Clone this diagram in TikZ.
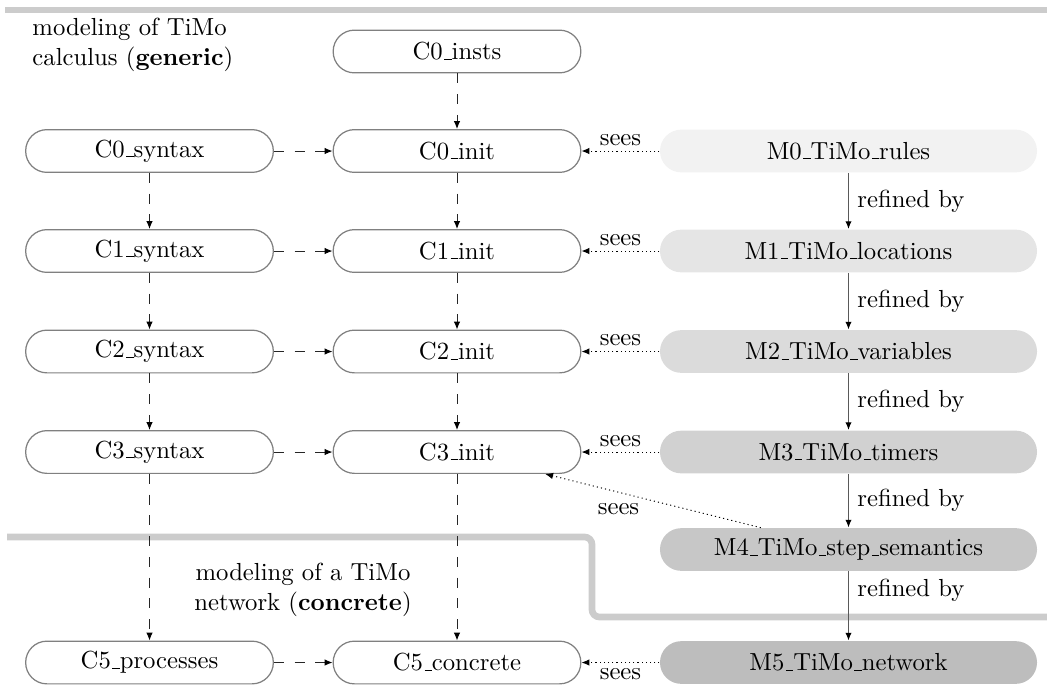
\documentclass[tikz,border=0pt]{standalone}
\usetikzlibrary{arrows.meta}
\newcommand\us{\leavevmode\kern.06em\vbox{\hrule width.3em}}
\begin{document}
\begin{tikzpicture}[x=0.405pt,y=-0.405pt,
  cnode/.style={draw=black!50, line width=0.5pt, rounded corners=8.6pt, minimum width=100.3pt, minimum height=17.3pt, inner sep=0pt, fill=white},
  mnode/.style={rounded corners=8.6pt, minimum width=152.7pt, minimum height=17.3pt, inner sep=0pt},
  tip/.style={-{Latex[length=3.2pt,width=2.6pt,black]}},
  dasharrow/.style={tip, draw=black!85, line width=0.4pt, dash pattern=on 4pt off 4.4pt},
  seesarrow/.style={tip, draw=black, line width=0.4pt, dash pattern=on 0.45pt off 1.25pt},
  refarrow/.style={tip, draw=black!65, line width=0.6pt},
  lbl/.style={inner sep=2pt},
  rlbl/.style={inner sep=3.3pt},
  sepline/.style={draw=black!20, line width=2.7pt}
]
\useasboundingbox (0,0) rectangle (1047,688);

% separators
\draw[sepline] (5,10) -- (1047,10);
\draw[sepline, rounded corners=3pt] (7,537) -- (592,537) -- (592,617) -- (1047,617);

% region texts
\node[anchor=north west, inner sep=0pt, align=left] (gen) at (32,18) {modeling of TiMo\\calculus (\textbf{generic})};
\node[inner sep=0pt, align=center] (conc) at (303,590) {modeling of a TiMo\\network (\textbf{concrete})};

% left column
\node[cnode] (s0) at (149.5,151) {C0\us syntax};
\node[cnode] (s1) at (149.5,251) {C1\us syntax};
\node[cnode] (s2) at (149.5,351.5) {C2\us syntax};
\node[cnode] (s3) at (149.5,452) {C3\us syntax};
\node[cnode] (s5) at (149.5,662.5) {C5\us processes};

% middle column
\node[cnode] (ins) at (457,51.5) {C0\us insts};
\node[cnode] (i0) at (457,151) {C0\us init};
\node[cnode] (i1) at (457,251) {C1\us init};
\node[cnode] (i2) at (457,351.5) {C2\us init};
\node[cnode] (i3) at (457,452) {C3\us init};
\node[cnode] (i5) at (457,662.5) {C5\us concrete};

% right column
\node[mnode, fill=black!5]  (m0) at (848.5,151) {M0\us TiMo\us rules};
\node[mnode, fill=black!10] (m1) at (848.5,251) {M1\us TiMo\us locations};
\node[mnode, fill=black!14] (m2) at (848.5,351.5) {M2\us TiMo\us variables};
\node[mnode, fill=black!18] (m3) at (848.5,452) {M3\us TiMo\us timers};
\node[mnode, fill=black!22] (m4) at (848.5,549.5) {M4\us TiMo\us step\us semantics};
\node[mnode, fill=black!26] (m5) at (848.5,662.5) {M5\us TiMo\us network};

% dashed vertical
\draw[dasharrow] (s0) -- (s1);
\draw[dasharrow] (s1) -- (s2);
\draw[dasharrow] (s2) -- (s3);
\draw[dasharrow] (s3) -- (s5);
\draw[dasharrow] (ins) -- (i0);
\draw[dasharrow] (i0) -- (i1);
\draw[dasharrow] (i1) -- (i2);
\draw[dasharrow] (i2) -- (i3);
\draw[dasharrow] (i3) -- (i5);

% dashed horizontal
\draw[dasharrow] (s0) -- (i0);
\draw[dasharrow] (s1) -- (i1);
\draw[dasharrow] (s2) -- (i2);
\draw[dasharrow] (s3) -- (i3);
\draw[dasharrow] (s5) -- (i5);

% sees
\draw[seesarrow] (m0) -- node[lbl, midway, above] {sees} (i0);
\draw[seesarrow] (m1) -- node[lbl, midway, above] {sees} (i1);
\draw[seesarrow] (m2) -- node[lbl, midway, above] {sees} (i2);
\draw[seesarrow] (m3) -- node[lbl, midway, above] {sees} (i3);
\draw[seesarrow] (m4.166) -- node[lbl, pos=0.66, below, yshift=-2.5pt] {sees} (i3.-14);
\draw[seesarrow] (m5) -- node[lbl, midway, below] {sees} (i5);

% refined by
\draw[refarrow] (m0) -- node[rlbl, midway, right] {refined by} (m1);
\draw[refarrow] (m1) -- node[rlbl, midway, right] {refined by} (m2);
\draw[refarrow] (m2) -- node[rlbl, midway, right] {refined by} (m3);
\draw[refarrow] (m3) -- node[rlbl, midway, right] {refined by} (m4);
\draw[refarrow] (m4) -- node[rlbl, pos=0.28, right] {refined by} (m5);
\end{tikzpicture}
\end{document}
